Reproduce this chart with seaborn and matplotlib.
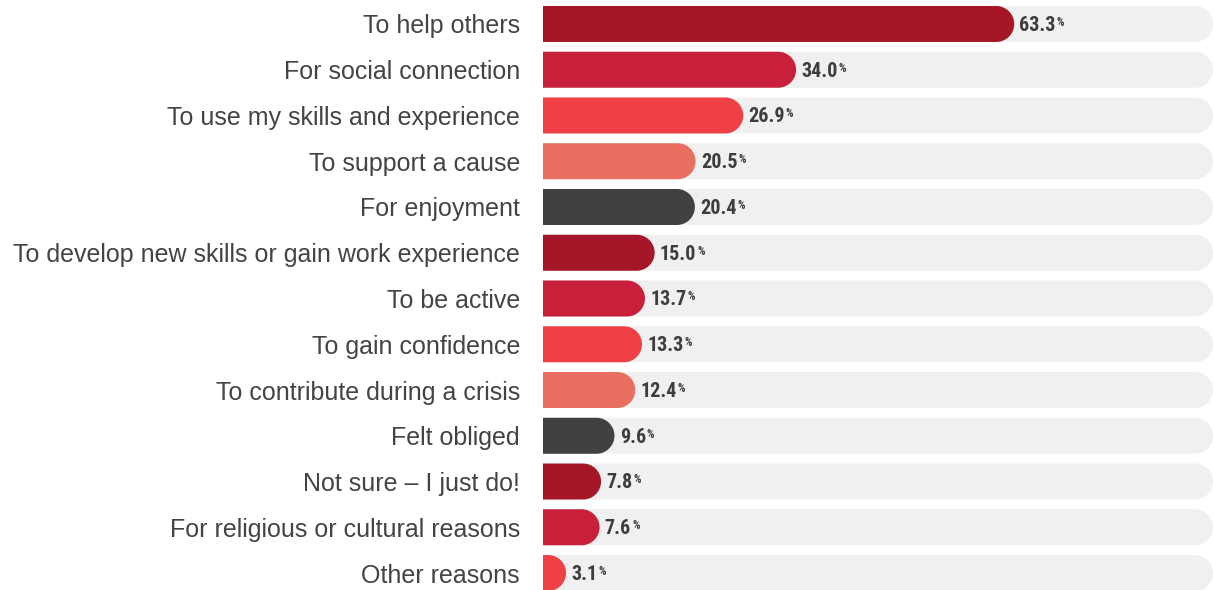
import numpy as np
import pandas as pd
import seaborn as sns
import matplotlib.pyplot as plt
from matplotlib.path import Path
from matplotlib.patches import PathPatch
from matplotlib.transforms import IdentityTransform

# data
reasons = [
    "To help others",
    "For social connection",
    "To use my skills and experience",
    "To support a cause",
    "For enjoyment",
    "To develop new skills or gain work experience",
    "To be active",
    "To gain confidence",
    "To contribute during a crisis",
    "Felt obliged",
    "Not sure \u2013 I just do!",
    "For religious or cultural reasons",
    "Other reasons",
]
pct = [63.3, 34.0, 26.9, 20.5, 20.4, 15.0, 13.7, 13.3, 12.4, 9.6, 7.8, 7.6, 3.1]
track_max = 90

palette = ["#a51728", "#c8203a", "#ef4145", "#e97060", "#414042"]
bar_colors = [palette[i % len(palette)] for i in range(len(pct))]

df = pd.DataFrame({"reason": reasons, "pct": pct, "track": [track_max] * len(pct)})

sns.set_theme(style="white")
plt.rcParams["font.family"] = ["Liberation Sans", "DejaVu Sans"]

W, H = 1213, 590
fig = plt.figure(figsize=(W / 100, H / 100), dpi=100)
ax = fig.add_axes([543 / W, -5.9 / H, 670 / W, 594.8 / H])

sns.barplot(data=df, y="reason", x="track", color="#f0f0f0", width=0.787,
            saturation=1, orient="h", ax=ax)
sns.barplot(data=df, y="reason", x="pct", hue="reason", palette=bar_colors,
            width=0.787, saturation=1, orient="h", legend=False, ax=ax)

ax.set_xlim(0, track_max)
ax.set_ylim(len(pct) - 0.5, -0.5)
ax.set_xlabel("")
ax.set_ylabel("")
ax.set_xticks([])
ax.tick_params(axis="y", length=0, pad=16.5, labelsize=18, labelcolor="#444444")
for s in ax.spines.values():
    s.set_visible(False)

fig.canvas.draw()
renderer = fig.canvas.get_renderer()


def rounded_right(rect):
    # rebuild a bar with square left end and round right end (in pixels)
    bb = rect.get_window_extent(renderer)
    x0, y0, x1, y1 = bb.x0, bb.y0, bb.x1, bb.y1
    r = min((y1 - y0) / 2, x1 - x0)
    k = 0.5523 * r
    verts = [
        (x0, y0), (x1 - r, y0),
        (x1 - r + k, y0), (x1, y0 + r - k), (x1, y0 + r),
        (x1, y1 - r),
        (x1, y1 - r + k), (x1 - r + k, y1), (x1 - r, y1),
        (x0, y1), (x0, y0),
    ]
    codes = [Path.MOVETO, Path.LINETO,
             Path.CURVE4, Path.CURVE4, Path.CURVE4,
             Path.LINETO,
             Path.CURVE4, Path.CURVE4, Path.CURVE4,
             Path.LINETO, Path.CLOSEPOLY]
    p = PathPatch(Path(verts, codes), facecolor=rect.get_facecolor(),
                  edgecolor="none", transform=IdentityTransform(),
                  zorder=rect.get_zorder(), clip_on=False)
    ax.add_artist(p)
    rect.set_visible(False)


for rect in list(ax.patches):
    rounded_right(rect)

num_font = ["Roboto Condensed", "Liberation Sans Narrow", "Roboto", "DejaVu Sans"]
for i, v in enumerate(pct):
    t = ax.text(v + 0.7, i + 0.03, f"{v:.1f}", va="center", ha="left", fontsize=14.5,
                fontweight="bold", color="#3d3d3d", family=num_font, zorder=5)
    bb = t.get_window_extent(renderer)
    x_pix = bb.x1 + 1
    y_pix = bb.y1
    fig.text(x_pix / W, y_pix / H, "%", ha="left", va="top", fontsize=8.5,
             fontweight="bold", color="#3d3d3d", family=num_font, zorder=5)

fig.savefig("out.png", dpi=100)
